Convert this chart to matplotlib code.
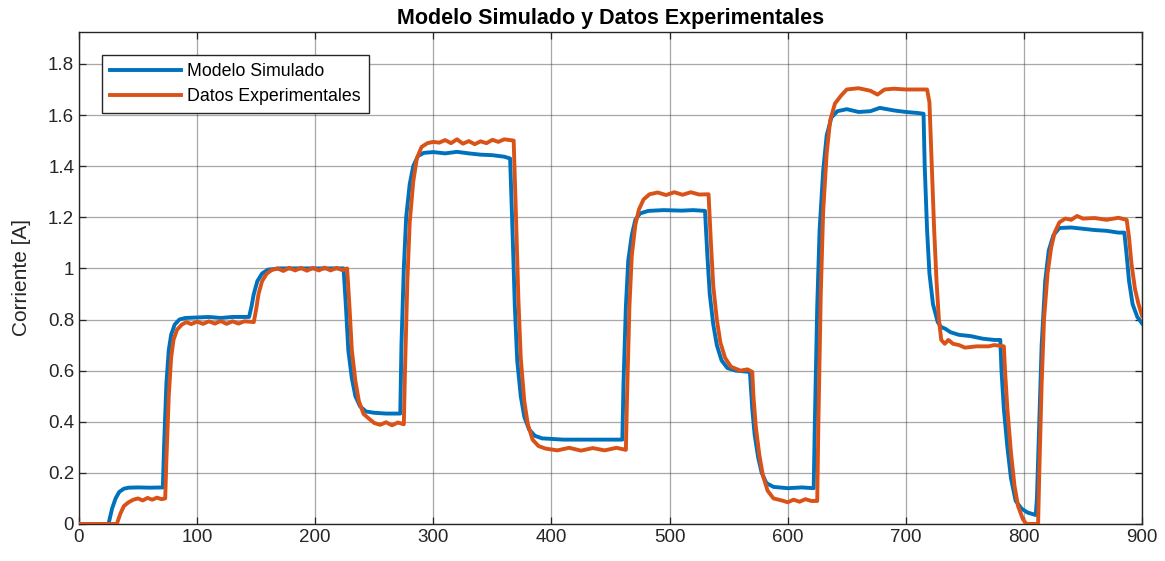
import matplotlib
matplotlib.use("Agg")
from matplotlib import pyplot as plt

# Modelo Simulado
t_sim = [0, 25, 28, 31, 34, 38, 42, 50, 60, 71,
         72, 74, 76, 78, 81, 85, 90, 100, 110, 120, 130, 144,
         146, 148, 151, 155, 160, 170, 190, 210, 224,
         226, 228, 231, 234, 238, 243, 250, 260, 272,
         273, 275, 277, 280, 283, 287, 292, 300, 310, 320, 330, 340, 350, 360, 365,
         367, 369, 371, 374, 377, 381, 386, 392, 410, 430, 450, 460,
         461, 463, 465, 468, 471, 475, 482, 495, 510, 520, 530,
         532, 534, 537, 540, 544, 549, 556, 568,
         570, 572, 575, 578, 582, 588, 600, 612, 622,
         623, 625, 627, 630, 633, 637, 642, 650, 660, 670, 678, 690, 700, 710, 715,
         716, 718, 720, 723, 727, 730, 733, 738, 745, 755, 765, 775, 780,
         781, 783, 786, 789, 793, 798, 803, 810,
         811, 813, 815, 818, 821, 825, 830, 840, 850, 860, 870, 880, 885,
         887, 889, 892, 896, 900]
i_sim = [0, 0, 0.06, 0.10, 0.125, 0.138, 0.142, 0.143, 0.142, 0.143,
         0.30, 0.55, 0.68, 0.74, 0.78, 0.80, 0.806, 0.808, 0.81, 0.806, 0.81, 0.81,
         0.85, 0.90, 0.95, 0.98, 0.995, 1.0, 1.0, 1.0, 1.0,
         0.85, 0.68, 0.57, 0.50, 0.46, 0.44, 0.435, 0.432, 0.432,
         0.70, 1.00, 1.20, 1.33, 1.40, 1.44, 1.452, 1.455, 1.45, 1.456, 1.45, 1.445, 1.443, 1.437, 1.43,
         1.15, 0.85, 0.64, 0.50, 0.42, 0.37, 0.345, 0.335, 0.33, 0.33, 0.33, 0.33,
         0.55, 0.85, 1.03, 1.13, 1.19, 1.215, 1.225, 1.228, 1.226, 1.228, 1.225,
         1.05, 0.90, 0.78, 0.70, 0.64, 0.61, 0.60, 0.595,
         0.45, 0.35, 0.26, 0.20, 0.16, 0.145, 0.14, 0.143, 0.14,
         0.40, 0.85, 1.15, 1.38, 1.52, 1.59, 1.615, 1.623, 1.612, 1.615, 1.628, 1.618, 1.612, 1.608, 1.605,
         1.40, 1.15, 0.98, 0.86, 0.79, 0.77, 0.765, 0.75, 0.74, 0.735, 0.725, 0.72, 0.72,
         0.60, 0.45, 0.30, 0.18, 0.09, 0.06, 0.045, 0.035,
         0.10, 0.40, 0.70, 0.95, 1.07, 1.13, 1.158, 1.16, 1.155, 1.15, 1.147, 1.14, 1.14,
         1.05, 0.95, 0.86, 0.81, 0.785]

t_exp = [0, 32, 35, 38, 42, 46, 50, 54, 58, 62, 66, 70, 73,
         74, 76, 78, 80, 83, 87, 91, 95, 100, 105, 110, 115, 120, 125, 130, 135, 140, 148,
         150, 152, 155, 159, 163, 168, 173, 178, 183, 188, 193, 198, 203, 208, 213, 218, 223, 227,
         229, 231, 234, 237, 241, 246, 250, 255, 260, 265, 270, 275,
         276, 278, 280, 283, 286, 290, 295, 300, 305, 310, 315, 320, 325, 330, 335, 340, 345, 350,
         355, 360, 365, 368,
         370, 372, 374, 377, 380, 384, 389, 395, 405, 415, 425, 435, 445, 455, 463,
         464, 466, 468, 471, 474, 478, 483, 490, 497, 504, 511, 518, 525, 533,
         535, 537, 540, 543, 547, 552, 560, 566, 570,
         571, 573, 576, 579, 583, 588, 595, 600, 605, 610, 615, 620, 625,
         626, 628, 630, 633, 636, 640, 645, 650, 660, 670, 676, 682, 690, 700, 710, 718,
         720, 722, 724, 726, 728, 730, 733, 736, 740, 745, 750, 760, 770, 775, 783,
         784, 786, 789, 792, 795, 799, 802, 812,
         813, 815, 817, 820, 823, 826, 830, 835, 840, 845, 850, 860, 870, 880, 887,
         889, 891, 894, 897, 900]
i_exp = [0, 0, 0.04, 0.07, 0.085, 0.095, 0.10, 0.092, 0.102, 0.095, 0.103, 0.097, 0.10,
         0.25, 0.50, 0.65, 0.72, 0.76, 0.78, 0.79, 0.782, 0.792, 0.783, 0.793, 0.784, 0.794,
         0.783, 0.793, 0.784, 0.793, 0.79,
         0.84, 0.90, 0.95, 0.98, 0.993, 1.0, 0.99, 1.002, 0.992, 1.002, 0.991, 1.002, 0.992,
         1.003, 0.992, 1.002, 0.993, 1.0,
         0.85, 0.68, 0.56, 0.48, 0.43, 0.41, 0.395, 0.388, 0.398, 0.386, 0.397, 0.39,
         0.60, 0.95, 1.18, 1.34, 1.43, 1.475, 1.49, 1.495, 1.492, 1.502, 1.49, 1.505, 1.488,
         1.498, 1.486, 1.497, 1.49, 1.503, 1.495, 1.505, 1.502, 1.5,
         1.20, 0.88, 0.65, 0.48, 0.39, 0.33, 0.305, 0.295, 0.288, 0.298, 0.287, 0.297, 0.288,
         0.298, 0.29,
         0.50, 0.85, 1.05, 1.17, 1.23, 1.27, 1.29, 1.297, 1.287, 1.298, 1.288, 1.298, 1.289, 1.29,
         1.10, 0.93, 0.80, 0.71, 0.65, 0.615, 0.60, 0.605, 0.595,
         0.50, 0.38, 0.27, 0.19, 0.13, 0.10, 0.092, 0.085, 0.095, 0.087, 0.097, 0.09, 0.09,
         0.40, 0.90, 1.22, 1.45, 1.58, 1.645, 1.675, 1.70, 1.705, 1.695, 1.68, 1.70, 1.703,
         1.70, 1.70, 1.70,
         1.65, 1.40, 1.15, 0.95, 0.80, 0.72, 0.705, 0.72, 0.705, 0.70, 0.69, 0.695, 0.695,
         0.70, 0.695,
         0.60, 0.45, 0.28, 0.15, 0.07, 0.02, 0.0, 0.0,
         0.20, 0.55, 0.80, 0.98, 1.08, 1.14, 1.18, 1.195, 1.19, 1.205, 1.195, 1.197, 1.19,
         1.198, 1.19,
         1.12, 1.02, 0.92, 0.86, 0.815]

x_ticks = [0, 100, 200, 300, 400, 500, 600, 700, 800, 900]
y_ticks = [0, 0.2, 0.4, 0.6, 0.8, 1.0, 1.2, 1.4, 1.6, 1.8]
y_tick_labels = ["0", "0.2", "0.4", "0.6", "0.8", "1", "1.2", "1.4", "1.6", "1.8"]

plt.rcParams["font.family"] = ["Liberation Sans", "DejaVu Sans"]

fig = plt.figure(figsize=(11.65, 5.61), dpi=100)
ax = fig.add_axes([0.0678, 0.066, 0.9125, 0.877])

ax.plot(t_sim, i_sim, color="#0072BD", linewidth=2.8, label="Modelo Simulado", zorder=3)
ax.plot(t_exp, i_exp, color="#D95319", linewidth=2.8, label="Datos Experimentales", zorder=3)

ax.set_xlim(0, 900)
ax.set_ylim(0, 1.925)
ax.set_xticks(x_ticks)
ax.set_yticks(y_ticks)
ax.set_yticklabels(y_tick_labels)

ax.grid(True, color="#262626", alpha=0.4, linewidth=0.9)
ax.tick_params(direction="in", top=True, right=True, labelsize=13.5,
               colors="#262626", length=5, width=0.9)
for s in ax.spines.values():
    s.set_color("#262626")
    s.set_linewidth(1.0)

ax.set_ylabel("Corriente [A]", fontsize=15, color="#262626", labelpad=12)
ax.set_title("Modelo Simulado y Datos Experimentales", fontsize=15.5, fontweight="bold",
             color="black", pad=6)

leg = ax.legend(loc="upper left", bbox_to_anchor=(0.0216, 0.953), borderaxespad=0,
                fontsize=12.8, handlelength=4.0, fancybox=False, framealpha=1,
                edgecolor="#262626", borderpad=0.45, labelspacing=0.45, handletextpad=0.35)
leg.get_frame().set_linewidth(1.0)

plt.savefig("out.png", dpi=100)
